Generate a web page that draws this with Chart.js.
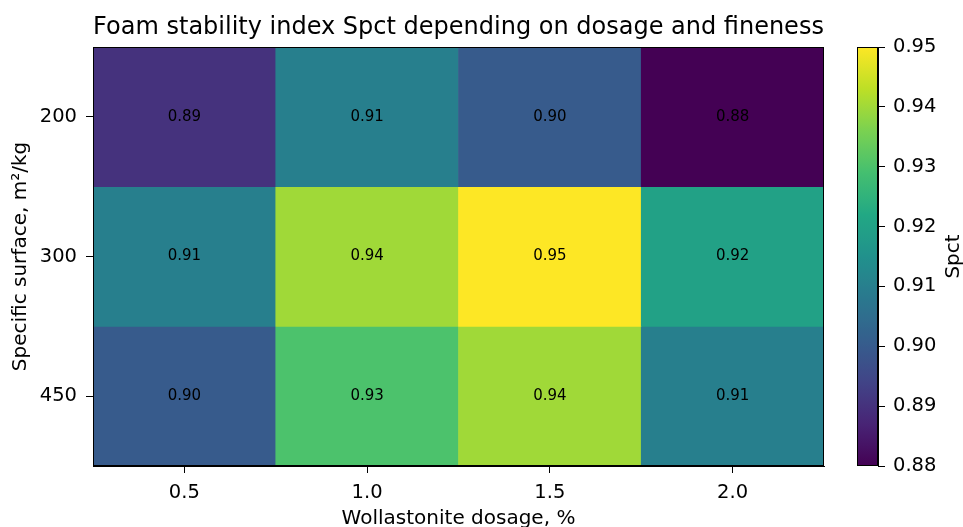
<!DOCTYPE html>
<html>
<head>
<meta charset="utf-8">
<title>Foam stability index</title>
<script src="https://cdn.jsdelivr.net/npm/chart.js@4"></script>
<style>
  body { margin: 0; background: #fff; }
  #wrap { position: relative; width: 963px; height: 527px; }
  #heat { position: absolute; left: 0; top: 0; }
  #cbar { position: absolute; left: 820px; top: 0; }
</style>
</head>
<body>
<div id="wrap">
  <canvas id="heat" width="963" height="527"></canvas>
  <canvas id="cbar" width="143" height="527"></canvas>
</div>
<script>
// Data
const dosages = ['0.5', '1.0', '1.5', '2.0'];
const surfaces = ['200', '300', '450'];
const spct200 = [0.89, 0.91, 0.90, 0.88];
const spct300 = [0.91, 0.94, 0.95, 0.92];
const spct450 = [0.90, 0.93, 0.94, 0.91];
const colorMin = 0.88;
const colorMax = 0.95;
const colorbarTicks = [0.88, 0.89, 0.90, 0.91, 0.92, 0.93, 0.94, 0.95];

Chart.defaults.font.family = 'DejaVu Sans';
Chart.defaults.color = '#000';

// viridis colormap, sampled every 0.1
const viridisStops = ['#440154', '#482475', '#414487', '#355f8d', '#2a788e', '#21918c',
    '#22a884', '#44bf70', '#7ad151', '#bddf26', '#fde725'];

function hexToRgb(h) {
    return [parseInt(h.slice(1, 3), 16), parseInt(h.slice(3, 5), 16), parseInt(h.slice(5, 7), 16)];
}

function viridis(t) {
    t = Math.min(1, Math.max(0, t));
    const p = t * 10;
    const i = Math.min(9, Math.floor(p));
    const f = p - i;
    const a = hexToRgb(viridisStops[i]);
    const b = hexToRgb(viridisStops[i + 1]);
    const c = a.map((v, k) => Math.round(v + (b[k] - v) * f));
    return `rgb(${c[0]},${c[1]},${c[2]})`;
}

function colorFor(v) {
    return viridis((v - colorMin) / (colorMax - colorMin));
}

// black frame round the chart area
const framePlugin = {
    id: 'frame',
    afterDraw(chart) {
        const a = chart.chartArea;
        const ctx = chart.ctx;
        ctx.save();
        ctx.strokeStyle = '#000';
        ctx.lineWidth = 1;
        ctx.strokeRect(Math.round(a.left) + 0.5, Math.round(a.top) + 0.5,
            Math.round(a.right - a.left) - 1, Math.round(a.bottom - a.top) - 1);
        ctx.restore();
    }
};

// value text in the middle of each cell
const cellLabels = {
    id: 'cellLabels',
    afterDatasetsDraw(chart) {
        const ctx = chart.ctx;
        ctx.save();
        ctx.font = '15px "DejaVu Sans"';
        ctx.fillStyle = '#000';
        ctx.textAlign = 'center';
        ctx.textBaseline = 'middle';
        chart.data.datasets.forEach((ds, di) => {
            chart.getDatasetMeta(di).data.forEach((el, i) => {
                ctx.fillText(ds.values[i].toFixed(2), el.x, (el.y + el.base) / 2);
            });
        });
        ctx.restore();
    }
};

// title centred over the plot area (the built-in one centres over the whole box)
const plotTitle = {
    id: 'plotTitle',
    afterDraw(chart) {
        const a = chart.chartArea;
        const ctx = chart.ctx;
        ctx.save();
        ctx.font = '24px "DejaVu Sans"';
        ctx.fillStyle = '#000';
        ctx.textAlign = 'center';
        ctx.textBaseline = 'alphabetic';
        ctx.fillText('Foam stability index Spct depending on dosage and fineness', (a.left + a.right) / 2, 34);
        ctx.restore();
    }
};

const rows = [spct200, spct300, spct450];

new Chart(document.getElementById('heat'), {
    type: 'bar',
    data: {
        labels: dosages,
        datasets: rows.map((vals, r) => ({
            label: surfaces[r],
            values: vals,
            data: vals.map(() => [r, r + 1]),
            backgroundColor: vals.map(colorFor),
            borderWidth: 0,
            borderSkipped: false,
            grouped: false,
            barPercentage: 1,
            categoryPercentage: 1
        }))
    },
    options: {
        responsive: false,
        animation: false,
        layout: { padding: { left: 0, right: 139, top: 47, bottom: 0 } },
        plugins: {
            legend: { display: false },
            tooltip: { enabled: false },
            title: { display: false }
        },
        scales: {
            x: {
                offset: true,
                grid: { offset: false, drawOnChartArea: false, drawTicks: true, tickLength: 7, color: '#000' },
                border: { display: true, color: '#000' },
                ticks: { font: { size: 19.5 }, padding: 8, maxRotation: 0 },
                title: { display: true, text: 'Wollastonite dosage, %', font: { size: 20 }, padding: { top: 0, bottom: -4 } },
                afterFit: (scale) => { scale.height = 61; }
            },
            y: {
                type: 'linear',
                min: 0,
                max: 3,
                reverse: true,
                afterBuildTicks: (scale) => {
                    scale.ticks = surfaces.map((s, i) => ({ value: i + 0.5 }));
                },
                ticks: {
                    font: { size: 19.5 },
                    padding: 9,
                    callback: (v, i) => surfaces[i]
                },
                grid: { drawOnChartArea: false, drawTicks: true, tickLength: 7, color: '#000' },
                border: { display: true, color: '#000' },
                title: { display: true, text: 'Specific surface, m²/kg', font: { size: 20 }, padding: { top: 9, bottom: 0 } },
                afterFit: (scale) => { scale.width = 93; }
            }
        }
    },
    plugins: [cellLabels, framePlugin, plotTitle]
});

// colorbar label, reading bottom to top like the reference
const cbarTitle = {
    id: 'cbarTitle',
    afterDraw(chart) {
        const a = chart.chartArea;
        const ctx = chart.ctx;
        ctx.save();
        ctx.translate(134, (a.top + a.bottom) / 2);
        ctx.rotate(-Math.PI / 2);
        ctx.font = '20px "DejaVu Sans"';
        ctx.fillStyle = '#000';
        ctx.textAlign = 'center';
        ctx.textBaseline = 'middle';
        ctx.fillText('Spct', 0, 0);
        ctx.restore();
    }
};

new Chart(document.getElementById('cbar'), {
    type: 'bar',
    data: {
        labels: [''],
        datasets: [{
            data: [[colorMin, colorMax]],
            backgroundColor: (c) => {
                const area = c.chart.chartArea;
                if (!area) return null;
                const g = c.chart.ctx.createLinearGradient(0, area.bottom, 0, area.top);
                for (let k = 0; k <= 40; k++) {
                    g.addColorStop(k / 40, viridis(k / 40));
                }
                return g;
            },
            borderWidth: 0,
            borderSkipped: false,
            barPercentage: 1,
            categoryPercentage: 1
        }]
    },
    options: {
        responsive: false,
        animation: false,
        layout: { padding: { left: 37, right: 0, top: 47, bottom: 61 } },
        plugins: { legend: { display: false }, tooltip: { enabled: false } },
        scales: {
            x: { display: false },
            y: {
                position: 'right',
                min: colorMin,
                max: colorMax,
                afterBuildTicks: (scale) => {
                    scale.ticks = colorbarTicks.map(v => ({ value: v }));
                },
                ticks: { font: { size: 19.5 }, padding: 8, callback: (v) => v.toFixed(2) },
                grid: { drawOnChartArea: false, drawTicks: true, tickLength: 7, color: '#000' },
                border: { display: true, color: '#000' },
                afterFit: (scale) => { scale.width = 85; }
            }
        }
    },
    plugins: [framePlugin, cbarTitle]
});
</script>
</body>
</html>
